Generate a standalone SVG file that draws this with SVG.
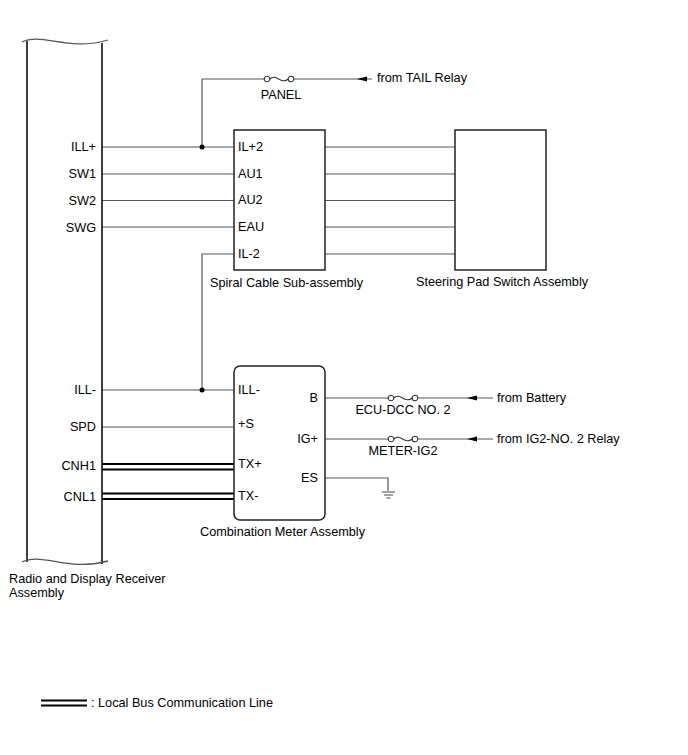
<svg xmlns="http://www.w3.org/2000/svg" width="688" height="755" viewBox="0 0 688 755">
<style>
text{font-family:"Liberation Sans",Arial,sans-serif;font-size:12.7px;fill:#000}
.r{text-anchor:end}
.m{text-anchor:middle}
.w{stroke:#555;stroke-width:1.2;fill:none}
.bx{stroke:#222;stroke-width:1.5;fill:#fff}
.bus{stroke:#000;stroke-width:2;fill:none}
.f{stroke:#333;stroke-width:1.1;fill:#fff}
.fw{stroke:#333;stroke-width:1.1;fill:none}
</style>
<defs>
<g id="fuse">
<path d="M2.8,0 C9,-6 14,6 21.2,0" class="fw"/>
<circle cx="0" cy="0" r="2.8" class="f"/>
<circle cx="24" cy="0" r="2.8" class="f"/>
</g>
<path id="arr" d="M0,0 L10,-2.5 L10,2.5 Z" fill="#000"/>
</defs>

<g id="connectors">
<!-- PANEL feed -->
<path class="w" d="M202,147 V79 H264"/>
<use href="#fuse" x="267" y="79"/>
<path class="w" d="M294,79 H372"/>
<use href="#arr" x="357" y="79"/>
<!-- spiral inputs -->
<path class="w" d="M102,147 H234"/>
<path class="w" d="M102,174 H234"/>
<path class="w" d="M102,200.5 H234"/>
<path class="w" d="M102,227 H234"/>
<path class="w" d="M234,254 H202 V390"/>
<!-- spiral to steering -->
<path class="w" d="M325,147 H455"/>
<path class="w" d="M325,174 H455"/>
<path class="w" d="M325,200.5 H455"/>
<path class="w" d="M325,227 H455"/>
<path class="w" d="M325,254 H455"/>
<!-- meter inputs -->
<path class="w" d="M102,390 H234"/>
<path class="w" d="M102,427 H234"/>
<path class="bus" d="M102,464 H234 M102,469.5 H234"/>
<path class="bus" d="M102,493.5 H234 M102,499 H234"/>
<!-- B -->
<path class="w" d="M325,398 H388"/>
<use href="#fuse" x="391" y="398"/>
<path class="w" d="M418,398 H493"/>
<use href="#arr" x="467" y="398"/>
<!-- IG+ -->
<path class="w" d="M325,439 H388"/>
<use href="#fuse" x="391" y="439"/>
<path class="w" d="M418,439 H493"/>
<use href="#arr" x="467" y="439"/>
<!-- ES ground -->
<path class="w" d="M325,478 H388 V491"/>
<path stroke="#444" stroke-width="1.2" d="M382,492 H395 M384,495 H393 M386.5,498 H390.5"/>
<circle cx="202" cy="147" r="2.5" fill="#000"/>
<circle cx="202" cy="390" r="2.5" fill="#000"/>
</g>

<g id="radio">
<path d="M27,41 V562 M102,43 V564" stroke="#000" stroke-width="1.5" fill="none"/>
<path d="M22,42 C42,32 68,52 108,40" stroke="#555" stroke-width="1.3" fill="none"/>
<path d="M22,562 C42,552 68,572 108,561" stroke="#555" stroke-width="1.3" fill="none"/>
<text x="96" y="151" class="r">ILL+</text>
<text x="96" y="178" class="r">SW1</text>
<text x="96" y="205" class="r">SW2</text>
<text x="96" y="232" class="r">SWG</text>
<text x="96" y="394" class="r">ILL-</text>
<text x="96" y="431" class="r">SPD</text>
<text x="96" y="470" class="r">CNH1</text>
<text x="96" y="501" class="r">CNL1</text>
<text x="9" y="583">Radio and Display Receiver</text>
<text x="9" y="597">Assembly</text>
</g>

<g id="spiral">
<rect x="234" y="130" width="91" height="140" class="bx"/>
<text x="238" y="151">IL+2</text>
<text x="238" y="178">AU1</text>
<text x="238" y="204">AU2</text>
<text x="238" y="231">EAU</text>
<text x="238" y="258">IL-2</text>
<text x="210" y="287">Spiral Cable Sub-assembly</text>
</g>

<g id="steering">
<rect x="455" y="130" width="91" height="140" class="bx"/>
<text x="416" y="286">Steering Pad Switch Assembly</text>
</g>

<g id="meter">
<rect x="234" y="366" width="91" height="154" rx="6" class="bx"/>
<text x="238" y="394">ILL-</text>
<text x="238" y="428">+S</text>
<text x="238" y="468">TX+</text>
<text x="238" y="500">TX-</text>
<text x="318" y="402" class="r">B</text>
<text x="318" y="443" class="r">IG+</text>
<text x="318" y="482" class="r">ES</text>
<text x="200" y="536">Combination Meter Assembly</text>
</g>

<g id="labels">
<text x="281" y="99" class="m">PANEL</text>
<text x="377" y="82">from TAIL Relay</text>
<text x="403" y="414" class="m">ECU-DCC NO. 2</text>
<text x="497" y="402">from Battery</text>
<text x="403" y="455" class="m">METER-IG2</text>
<text x="497" y="443">from IG2-NO. 2 Relay</text>
</g>

<g id="legend">
<path class="bus" d="M41,700.5 H87 M41,705.5 H87"/>
<text x="91" y="707">: Local Bus Communication Line</text>
</g>
</svg>
